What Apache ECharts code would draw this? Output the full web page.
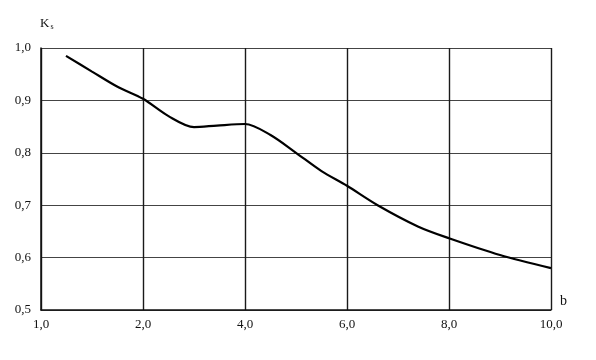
<!DOCTYPE html>
<html>
<head>
<meta charset="utf-8">
<script src="https://cdn.jsdelivr.net/npm/echarts@6/dist/echarts.min.js"></script>
<style>
  html, body { margin: 0; padding: 0; background: #fff; }
  #chart { width: 596px; height: 360px; }
</style>
</head>
<body>
<div id="chart"></div>
<script>
// tick labels as printed under the x axis (the first gridline is labelled 1,0)
const xTickLabels = ['1,0', '2,0', '4,0', '6,0', '8,0', '10,0'];
// curve, x in axis units (0..10), Ks value
const bValues = [0.49, 1.0, 1.5, 2.0, 2.5, 3.0, 3.45, 4.0, 4.5, 5.0, 5.5, 6.0, 6.6, 7.4, 8.0, 9.0, 10.0];
const ksValues = [0.985, 0.955, 0.926, 0.903, 0.870, 0.849, 0.852, 0.855, 0.834, 0.800, 0.765, 0.737, 0.700, 0.659, 0.637, 0.605, 0.580];

const curve = bValues.map((b, i) => [b, ksValues[i]]);
const serif = 'Liberation Serif';

const chart = echarts.init(document.getElementById('chart'));
chart.setOption({
  animation: false,
  grid: { left: 41, right: 45, top: 48, bottom: 50 },
  xAxis: {
    type: 'value',
    min: 0, max: 10, interval: 2,
    name: 'b',
    nameLocation: 'end',
    nameGap: 9,
    nameTextStyle: { fontFamily: serif, fontSize: 14, color: '#111', verticalAlign: 'bottom', padding: [0, 0, 2, 0] },
    axisLine: { show: true, lineStyle: { color: '#111', width: 1.5 } },
    axisTick: { show: false },
    axisLabel: {
      fontFamily: serif, fontSize: 13, color: '#111', margin: 8,
      formatter: v => xTickLabels[Math.round(v / 2)]
    },
    splitLine: { show: true, lineStyle: { color: '#1a1a1a', width: 1.4 } }
  },
  yAxis: {
    type: 'value',
    min: 0.5, max: 1.0, interval: 0.1,
    name: '{k|K}{s|s}',
    nameLocation: 'end',
    nameGap: 17,
    nameTextStyle: {
      align: 'left',
      padding: [0, 0, 0, -1],
      rich: {
        k: { fontFamily: serif, fontSize: 13, color: '#111' },
        s: { fontFamily: serif, fontSize: 8, color: '#111', verticalAlign: 'bottom', padding: [6, 0, 0, 1] }
      }
    },
    axisLine: { show: true, lineStyle: { color: '#111', width: 1.5 } },
    axisTick: { show: false },
    axisLabel: {
      fontFamily: serif, fontSize: 13, color: '#111', margin: 10,
      formatter: v => v.toFixed(1).replace('.', ',')
    },
    splitLine: { show: true, lineStyle: { color: '#444', width: 1 } }
  },
  series: [{
    type: 'line',
    data: curve,
    smooth: 0.3,
    symbol: 'none',
    lineStyle: { color: '#000', width: 2.2 }
  }]
});
</script>
</body>
</html>
